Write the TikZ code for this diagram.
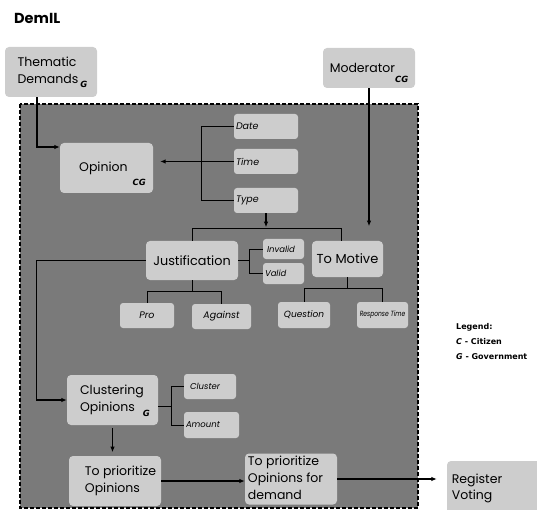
\documentclass[tikz,border=0pt]{standalone}
\usepackage{fontspec}
\setmainfont{Poppins}
\newfontfamily\subfam{DejaVu Sans}
\usepackage{graphicx}
\usetikzlibrary{arrows.meta}
\definecolor{bggray}{HTML}{7A7A7A}
\definecolor{boxgray}{HTML}{CDCDCD}
\newcommand{\subf}{\subfam\bfseries\itshape\fontsize{8.5}{9}\selectfont}
\newcommand{\legf}{\subfam\bfseries\fontsize{8}{15}\selectfont}
\newcommand{\lines}[1]{\begin{tabular}{@{}l@{}}#1\end{tabular}}
\begin{document}
\begin{tikzpicture}[x=1pt,y=-1pt,
  box/.style={fill=boxgray, rounded corners=4pt, inner sep=0pt, font=\fontsize{12.5}{17}\selectfont},
  sm/.style={fill=boxgray, rounded corners=3pt, inner sep=0pt, font=\fontsize{9.5}{12}\selectfont\itshape},
  arr/.style={-{Latex[length=5.5pt,width=4.5pt]}, line width=1.1pt},
  ln/.style={line width=0.9pt}]
\useasboundingbox (0,0) rectangle (537,510);

% title
\node[anchor=west, font=\bfseries\fontsize{14.5}{16}\selectfont, inner sep=0pt] (title) at (14,18) {DemIL};

% outer dashed area
\draw[fill=bggray, line width=1.3pt, dash pattern=on 4pt off 2pt] (20,104) rectangle (418,508);

% outside boxes
\node[box, minimum width=92pt, minimum height=50pt] (td) at (51,72)
  {\hspace*{3pt}\lines{Thematic\\Demands\,\smash{\raisebox{-4pt}{\subf G}}}};
\node[box, minimum width=92pt, minimum height=40pt] (mod) at (369,68)
  {Moderator\smash{\raisebox{-10pt}{\subf CG}}};

% opinion
\node[box, minimum width=93pt, minimum height=50pt] (op) at (106.5,168)
  {\hspace*{12pt}Opinion\hspace{5pt}\smash{\raisebox{-14pt}{\subf CG}}};

\node[sm, minimum width=64pt, minimum height=25pt, text width=60pt, align=left] (date) at (266,126.5) {Date};
\node[sm, minimum width=64pt, minimum height=25pt, text width=60pt, align=left] (time) at (266,161.5) {Time};
\node[sm, minimum width=64pt, minimum height=25pt, text width=60pt, align=left] (type) at (266,200.5) {Type};

% justification / motive
\node[box, font=\fontsize{12.8}{18}\selectfont, minimum width=92pt, minimum height=39pt] (just) at (192,260.5) {Justification};
\node[box, font=\fontsize{13}{18}\selectfont, minimum width=71pt, minimum height=36pt] (mot) at (347.5,259) {To Motive};

\node[sm, font=\fontsize{8.5}{11}\selectfont\itshape, minimum width=41pt, minimum height=20pt, text width=33pt, align=left] (inv) at (283.5,249) {Invalid};
\node[sm, font=\fontsize{8.5}{11}\selectfont\itshape, minimum width=41pt, minimum height=21pt, text width=37pt, align=left] (val) at (283.5,273.5) {Valid};

\node[sm, font=\fontsize{9}{11}\selectfont\itshape, minimum width=52pt, minimum height=26pt] (q) at (304,315) {Question};
\node[sm, font=\fontsize{7.5}{10}\selectfont\itshape, minimum width=51pt, minimum height=26pt] (rt) at (382.5,315) {\scalebox{0.8}[1]{Response Time}};
\node[sm, minimum width=54pt, minimum height=25pt] (pro) at (147,315.5) {Pro};
\node[sm, minimum width=59pt, minimum height=25pt] (ag) at (221.5,316.5) {Against};

% clustering
\node[box, minimum width=91pt, minimum height=50pt] (cl) at (112.5,400)
  {\hspace*{5pt}\lines{Clustering\\Opinions\hspace{8pt}\smash{\raisebox{-5pt}{\subf G}}}};
\node[sm, font=\fontsize{8.5}{11}\selectfont\itshape, minimum width=52pt, minimum height=25pt, text width=40pt, align=left] (clu) at (210,386.5) {Cluster};
\node[sm, font=\fontsize{8.5}{11}\selectfont\itshape, minimum width=55pt, minimum height=26pt, text width=51pt, align=left] (am) at (211.5,425) {Amount};

% prioritize
\node[box, minimum width=92pt, minimum height=50pt] (pr) at (115,481)
  {\hspace*{11pt}\lines{To prioritize\\Opinions}};
\node[box, minimum width=92pt, minimum height=50pt] (prd) at (291,479)
  {\hspace*{-11pt}\lines{To prioritize\\Opinions for\\demand}};
\node[box, font=\fontsize{12.5}{16}\selectfont, minimum width=98pt, minimum height=54pt] (rv) at (496,488)
  {\hspace*{-38pt}\lines{Register\\Voting}};

% legend
\node[anchor=north west, align=left, inner sep=0pt, font=\legf] (leg) at (456,323)
  {Legend:\\\textit{C} - Citizen\\\textit{G} - Government};

% connectors
\draw[arr] ([xshift=-14pt]td.south) |- ([yshift=21pt]op.west);
\draw[ln] (date.west) -- ++(-32,0) |- (type.west);
\coordinate (opr) at ([xshift=7pt]op.east);
\draw[arr] (time.west) -- (opr |- time.west);
\draw[arr] (type.south) -- ++(0,14);
\coordinate (motn) at ([xshift=-6.5pt]mot.north);
\draw[ln] (just.north) -- ++(0,-12) -| (motn);
\draw[arr] (mod.south) -- ++(0,138);
\draw[ln] (just.east) -- ++(12,0);
\draw[ln] (inv.west) -- ++(-13,0) |- (val.west);
\draw[ln] (just.south) -- ++(0,11.5) coordinate (jbot);
\draw[ln] (pro.north) |- (jbot) -| (ag.north);
\draw[ln] (mot.south) -- ++(0,11) coordinate (mbot);
\draw[ln] (q.north) |- (mbot) -| (rt.north);
\draw[arr] (just.west) -- ++(-109,0) |- (cl.west);
\draw[ln] ([yshift=-6pt]cl.east) -- ++(14,0);
\draw[ln] (clu.west) -- ++(-12,0) |- (am.west);
\draw[arr] ([yshift=-3pt]cl.south) -- ++(0,24);
\draw[arr] (pr.east) -- (pr.east -| prd.west);
\coordinate (rvw) at ([xshift=-10pt]rv.west);
\draw[arr] (prd.east) -- (rvw |- prd.east);
\end{tikzpicture}
\end{document}
